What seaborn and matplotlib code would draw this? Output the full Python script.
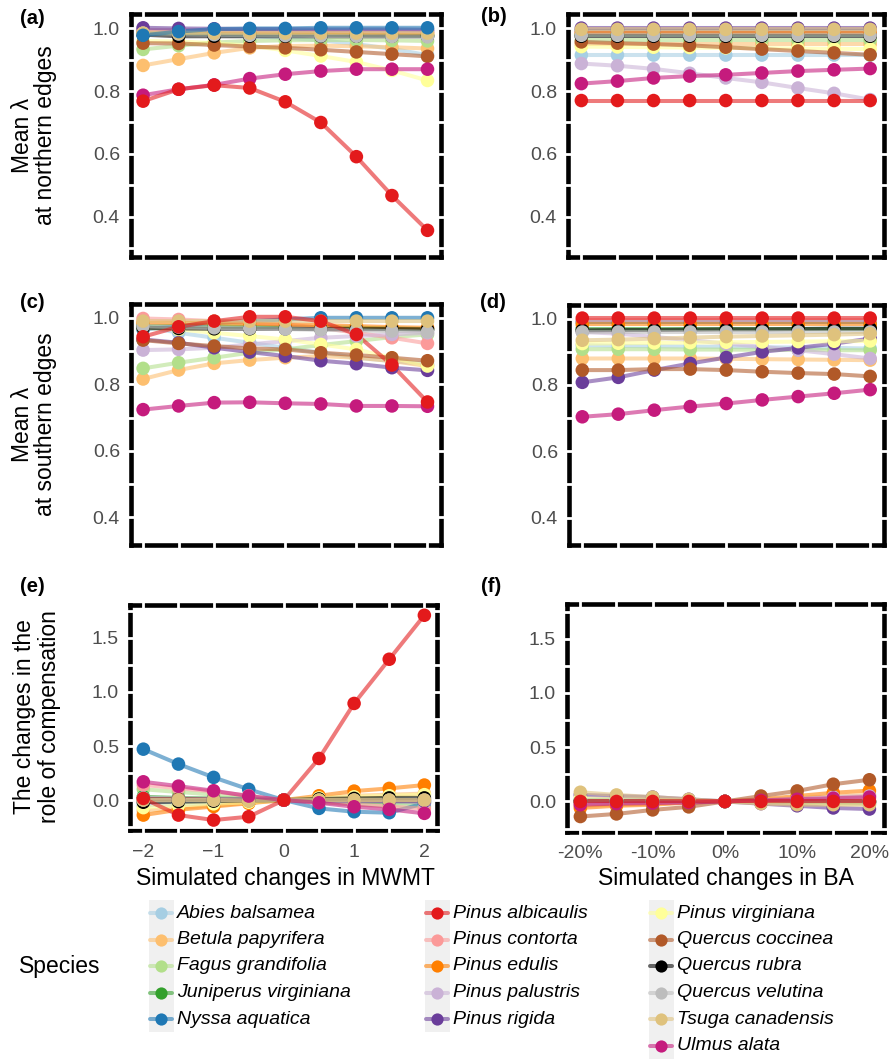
import matplotlib
matplotlib.use("Agg")
import numpy as np
import pandas as pd
import matplotlib.pyplot as plt
import seaborn as sns
from matplotlib.ticker import MultipleLocator, FuncFormatter, NullFormatter
from matplotlib.lines import Line2D
from matplotlib.patches import Rectangle

# ---------------- data ----------------
SPECIES = ["Abies balsamea", "Betula papyrifera", "Fagus grandifolia", "Juniperus virginiana",
           "Nyssa aquatica", "Pinus albicaulis", "Pinus contorta", "Pinus edulis",
           "Pinus palustris", "Pinus rigida", "Pinus virginiana", "Quercus coccinea",
           "Quercus rubra", "Quercus velutina", "Tsuga canadensis", "Ulmus alata"]
COLORS = ["#A6CEE3", "#FDBF6F", "#B2DF8A", "#33A02C", "#1F78B4", "#E31A1C", "#FB9A99",
          "#FF7F00", "#CAB2D6", "#6A3D9A", "#FFFF99", "#B15928", "#000000", "#BDBDBD",
          "#DFC27D", "#C51B7D"]
MWMT_X = [-2, -1.5, -1, -0.5, 0, 0.5, 1, 1.5, 2]
BA_X = [-20, -15, -10, -5, 0, 5, 10, 15, 20]

NORTH_MWMT = {
    "Abies balsamea":       [0.985, 0.985, 0.980, 0.975, 0.970, 0.962, 0.950, 0.935, 0.915],
    "Betula papyrifera":    [0.882, 0.902, 0.922, 0.938, 0.944, 0.945, 0.943, 0.940, 0.936],
    "Fagus grandifolia":    [0.933, 0.945, 0.955, 0.960, 0.962, 0.963, 0.963, 0.962, 0.960],
    "Juniperus virginiana": [0.985, 0.983, 0.982, 0.980, 0.980, 0.980, 0.979, 0.978, 0.977],
    "Nyssa aquatica":       [0.978, 0.990, 0.998, 1.000, 1.000, 1.002, 1.002, 1.002, 1.002],
    "Pinus albicaulis":     [0.768, 0.806, 0.819, 0.810, 0.766, 0.700, 0.591, 0.467, 0.356],
    "Pinus contorta":       [0.995, 0.995, 0.994, 0.993, 0.992, 0.991, 0.990, 0.990, 0.989],
    "Pinus edulis":         [0.990, 0.990, 0.990, 0.988, 0.987, 0.986, 0.985, 0.984, 0.983],
    "Pinus palustris":      [0.995, 0.995, 0.994, 0.994, 0.993, 0.993, 0.992, 0.992, 0.991],
    "Pinus rigida":         [1.002, 1.000, 0.999, 0.998, 0.998, 0.997, 0.997, 0.997, 0.996],
    "Pinus virginiana":     [0.960, 0.958, 0.953, 0.945, 0.930, 0.912, 0.893, 0.866, 0.834],
    "Quercus coccinea":     [0.953, 0.952, 0.947, 0.942, 0.938, 0.932, 0.925, 0.918, 0.911],
    "Quercus rubra":        [0.980, 0.975, 0.975, 0.975, 0.975, 0.975, 0.975, 0.975, 0.975],
    "Quercus velutina":     [0.985, 0.982, 0.980, 0.978, 0.977, 0.976, 0.975, 0.974, 0.973],
    "Tsuga canadensis":     [0.985, 0.985, 0.985, 0.985, 0.985, 0.985, 0.985, 0.985, 0.985],
    "Ulmus alata":          [0.787, 0.806, 0.820, 0.840, 0.854, 0.864, 0.870, 0.870, 0.870],
}
NORTH_BA = {
    "Abies balsamea":       [0.915, 0.915, 0.915, 0.915, 0.915, 0.915, 0.915, 0.915, 0.915],
    "Betula papyrifera":    [0.950, 0.950, 0.950, 0.950, 0.950, 0.950, 0.950, 0.950, 0.950],
    "Fagus grandifolia":    [0.962, 0.962, 0.962, 0.962, 0.962, 0.962, 0.962, 0.962, 0.962],
    "Juniperus virginiana": [0.980, 0.980, 0.980, 0.980, 0.980, 0.980, 0.980, 0.980, 0.980],
    "Nyssa aquatica":       [0.993, 0.993, 0.993, 0.993, 0.993, 0.993, 0.993, 0.993, 0.993],
    "Pinus albicaulis":     [0.770, 0.770, 0.770, 0.770, 0.770, 0.770, 0.770, 0.770, 0.770],
    "Pinus contorta":       [0.990, 0.990, 0.990, 0.990, 0.990, 0.990, 0.990, 0.990, 0.990],
    "Pinus edulis":         [0.985, 0.985, 0.985, 0.985, 0.985, 0.985, 0.985, 0.985, 0.985],
    "Pinus palustris":      [0.888, 0.881, 0.871, 0.857, 0.842, 0.828, 0.810, 0.793, 0.773],
    "Pinus rigida":         [1.001, 1.001, 1.001, 1.001, 1.001, 1.001, 1.001, 1.001, 1.001],
    "Pinus virginiana":     [0.942, 0.941, 0.940, 0.939, 0.938, 0.937, 0.936, 0.935, 0.934],
    "Quercus coccinea":     [0.957, 0.953, 0.950, 0.946, 0.940, 0.934, 0.928, 0.922, 0.916],
    "Quercus rubra":        [0.975, 0.975, 0.975, 0.975, 0.975, 0.975, 0.975, 0.975, 0.975],
    "Quercus velutina":     [0.978, 0.978, 0.978, 0.978, 0.978, 0.978, 0.978, 0.978, 0.978],
    "Tsuga canadensis":     [0.997, 0.997, 0.997, 0.997, 0.997, 0.997, 0.997, 0.997, 0.997],
    "Ulmus alata":          [0.824, 0.832, 0.842, 0.848, 0.852, 0.858, 0.864, 0.868, 0.872],
}
SOUTH_MWMT = {
    "Abies balsamea":       [0.975, 0.955, 0.940, 0.925, 0.910, 0.895, 0.880, 0.870, 0.860],
    "Betula papyrifera":    [0.816, 0.843, 0.863, 0.873, 0.880, 0.885, 0.880, 0.870, 0.855],
    "Fagus grandifolia":    [0.848, 0.865, 0.880, 0.895, 0.905, 0.918, 0.930, 0.942, 0.950],
    "Juniperus virginiana": [0.975, 0.975, 0.974, 0.973, 0.972, 0.971, 0.970, 0.968, 0.966],
    "Nyssa aquatica":       [0.965, 0.975, 0.985, 0.990, 0.995, 1.000, 1.000, 1.000, 1.000],
    "Pinus albicaulis":     [0.943, 0.973, 0.990, 1.003, 1.003, 0.990, 0.950, 0.858, 0.747],
    "Pinus contorta":       [0.998, 0.995, 0.990, 0.985, 0.980, 0.970, 0.955, 0.940, 0.923],
    "Pinus edulis":         [0.985, 0.985, 0.983, 0.982, 0.980, 0.978, 0.975, 0.972, 0.970],
    "Pinus palustris":      [0.903, 0.905, 0.910, 0.920, 0.930, 0.940, 0.945, 0.950, 0.955],
    "Pinus rigida":         [0.935, 0.925, 0.910, 0.897, 0.885, 0.871, 0.862, 0.850, 0.842],
    "Pinus virginiana":     [0.970, 0.965, 0.955, 0.945, 0.935, 0.920, 0.905, 0.880, 0.855],
    "Quercus coccinea":     [0.933, 0.923, 0.915, 0.908, 0.905, 0.895, 0.888, 0.880, 0.871],
    "Quercus rubra":        [0.970, 0.968, 0.967, 0.967, 0.967, 0.966, 0.966, 0.966, 0.965],
    "Quercus velutina":     [0.975, 0.972, 0.970, 0.968, 0.966, 0.964, 0.962, 0.960, 0.958],
    "Tsuga canadensis":     [0.990, 0.990, 0.990, 0.990, 0.990, 0.990, 0.990, 0.990, 0.990],
    "Ulmus alata":          [0.724, 0.735, 0.745, 0.746, 0.743, 0.741, 0.735, 0.735, 0.734],
}
SOUTH_BA = {
    "Abies balsamea":       [0.920, 0.918, 0.917, 0.916, 0.915, 0.914, 0.913, 0.912, 0.910],
    "Betula papyrifera":    [0.880, 0.880, 0.880, 0.880, 0.879, 0.878, 0.877, 0.876, 0.875],
    "Fagus grandifolia":    [0.908, 0.908, 0.908, 0.907, 0.907, 0.906, 0.906, 0.905, 0.905],
    "Juniperus virginiana": [0.970, 0.970, 0.970, 0.970, 0.970, 0.970, 0.970, 0.970, 0.970],
    "Nyssa aquatica":       [0.990, 0.990, 0.990, 0.990, 0.990, 0.990, 0.990, 0.990, 0.990],
    "Pinus albicaulis":     [1.002, 1.002, 1.002, 1.002, 1.002, 1.002, 1.002, 1.002, 1.002],
    "Pinus contorta":       [0.995, 0.995, 0.995, 0.995, 0.995, 0.995, 0.995, 0.995, 0.995],
    "Pinus edulis":         [0.983, 0.983, 0.983, 0.983, 0.983, 0.983, 0.983, 0.983, 0.983],
    "Pinus palustris":      [0.960, 0.955, 0.945, 0.935, 0.925, 0.915, 0.905, 0.893, 0.880],
    "Pinus rigida":         [0.808, 0.823, 0.845, 0.865, 0.883, 0.900, 0.912, 0.925, 0.940],
    "Pinus virginiana":     [0.925, 0.926, 0.927, 0.928, 0.929, 0.930, 0.931, 0.932, 0.933],
    "Quercus coccinea":     [0.845, 0.845, 0.848, 0.848, 0.845, 0.840, 0.836, 0.833, 0.826],
    "Quercus rubra":        [0.965, 0.966, 0.966, 0.967, 0.968, 0.968, 0.969, 0.970, 0.970],
    "Quercus velutina":     [0.960, 0.960, 0.960, 0.960, 0.960, 0.960, 0.960, 0.960, 0.960],
    "Tsuga canadensis":     [0.935, 0.937, 0.940, 0.943, 0.946, 0.948, 0.950, 0.952, 0.955],
    "Ulmus alata":          [0.704, 0.712, 0.724, 0.735, 0.744, 0.755, 0.765, 0.775, 0.786],
}
COMP_MWMT = {
    "Abies balsamea":       [-0.050, -0.040, -0.030, -0.015, 0.0, 0.000, 0.010, 0.010, 0.000],
    "Betula papyrifera":    [-0.100, -0.075, -0.050, -0.025, 0.0, 0.020, 0.040, 0.050, 0.060],
    "Fagus grandifolia":    [0.100, 0.075, 0.050, 0.025, 0.0, -0.020, -0.040, -0.050, -0.060],
    "Juniperus virginiana": [0.030, 0.020, 0.015, 0.010, 0.0, -0.010, -0.015, -0.020, -0.020],
    "Nyssa aquatica":       [0.471, 0.333, 0.210, 0.099, 0.0, -0.077, -0.108, -0.117, -0.030],
    "Pinus albicaulis":     [0.015, -0.139, -0.185, -0.154, 0.0, 0.385, 0.894, 1.303, 1.710],
    "Pinus contorta":       [0.140, 0.110, 0.080, 0.040, 0.0, -0.020, -0.040, -0.060, -0.080],
    "Pinus edulis":         [-0.139, -0.090, -0.060, -0.030, 0.0, 0.040, 0.083, 0.108, 0.139],
    "Pinus palustris":      [0.020, 0.015, 0.010, 0.005, 0.0, -0.005, -0.010, -0.015, -0.020],
    "Pinus rigida":         [0.010, 0.008, 0.006, 0.003, 0.0, -0.003, -0.006, -0.008, -0.010],
    "Pinus virginiana":     [-0.070, -0.050, -0.035, -0.020, 0.0, 0.020, 0.030, 0.040, 0.050],
    "Quercus coccinea":     [0.010, 0.010, 0.005, 0.000, 0.0, 0.000, 0.000, 0.000, 0.000],
    "Quercus rubra":        [-0.020, -0.015, -0.010, -0.005, 0.0, 0.010, 0.015, 0.020, 0.020],
    "Quercus velutina":     [0.000, 0.000, 0.000, 0.000, 0.0, 0.000, 0.000, 0.000, 0.000],
    "Tsuga canadensis":     [0.000, 0.000, 0.000, -0.010, 0.0, 0.000, 0.000, 0.000, 0.000],
    "Ulmus alata":          [0.169, 0.129, 0.086, 0.037, 0.0, -0.025, -0.062, -0.086, -0.123],
}
COMP_BA = {
    "Abies balsamea":       [0.020, 0.015, 0.010, 0.005, 0.0, -0.005, -0.010, -0.015, -0.020],
    "Betula papyrifera":    [-0.040, -0.030, -0.020, -0.010, 0.0, 0.015, 0.030, 0.045, 0.060],
    "Fagus grandifolia":    [0.010, 0.008, 0.005, 0.003, 0.0, -0.003, -0.005, -0.008, -0.010],
    "Juniperus virginiana": [0.000, 0.000, 0.000, 0.000, 0.0, 0.000, 0.000, 0.000, 0.000],
    "Nyssa aquatica":       [0.010, 0.008, 0.005, 0.003, 0.0, -0.003, -0.005, -0.008, -0.010],
    "Pinus albicaulis":     [0.000, 0.000, 0.000, 0.000, 0.0, 0.000, 0.000, 0.000, 0.000],
    "Pinus contorta":       [-0.010, -0.008, -0.005, -0.003, 0.0, 0.005, 0.010, 0.015, 0.020],
    "Pinus edulis":         [-0.060, -0.040, -0.030, -0.010, 0.0, 0.020, 0.050, 0.080, 0.100],
    "Pinus palustris":      [-0.020, -0.015, -0.010, -0.005, 0.0, 0.010, 0.025, 0.040, 0.050],
    "Pinus rigida":         [0.060, 0.050, 0.040, 0.020, 0.0, -0.020, -0.040, -0.060, -0.070],
    "Pinus virginiana":     [0.030, 0.020, 0.015, 0.008, 0.0, -0.008, -0.015, -0.020, -0.020],
    "Quercus coccinea":     [-0.139, -0.115, -0.078, -0.050, 0.0, 0.050, 0.097, 0.159, 0.200],
    "Quercus rubra":        [0.000, 0.000, 0.000, 0.000, 0.0, 0.000, 0.000, 0.000, 0.000],
    "Quercus velutina":     [0.000, 0.000, 0.000, 0.000, 0.0, 0.000, 0.000, 0.000, 0.000],
    "Tsuga canadensis":     [0.085, 0.060, 0.040, 0.020, 0.0, -0.020, -0.030, -0.030, -0.030],
    "Ulmus alata":          [-0.030, -0.020, -0.015, -0.010, 0.0, 0.010, 0.020, 0.030, 0.040],
}

# ---------------- style ----------------
sns.set_style("white")
plt.rcParams["font.family"] = ["Liberation Sans", "DejaVu Sans"]
plt.rcParams["text.color"] = "black"

PAL = dict(zip(SPECIES, COLORS))
TICK_GREY = "#4D4D4D"


def draw_order(last):
    return [s for s in SPECIES if s not in last] + list(last)


ORDER_DEFAULT = draw_order(["Pinus albicaulis"])
ORDER_A = draw_order(["Nyssa aquatica", "Pinus albicaulis"])

W, H = 889, 1060
fig = plt.figure(figsize=(W / 100, H / 100), dpi=100)


def rect(l, t, r, b):
    return [l / W, 1 - b / H, (r - l) / W, (b - t) / H]


def to_long(d, xs, order):
    rows = []
    for sp in order:
        for x, y in zip(xs, d[sp]):
            rows.append((sp, x, y))
    return pd.DataFrame(rows, columns=["species", "x", "y"])


mwmt_fmt = FuncFormatter(lambda v, p: ("\u2212" if v < 0 else "") + f"{abs(v):g}")
ba_fmt = FuncFormatter(lambda v, p: ("-" if v < 0 else "") + f"{abs(v):g}%")

panels = [
    (NORTH_MWMT, MWMT_X, ORDER_A, rect(131, 14, 441, 256.7), (0.272, 1.046), (-2.17, 2.19), 1, 0.5, 0.2, 0.1, False, mwmt_fmt, "(a)", (32, 19)),
    (NORTH_BA, BA_X, ORDER_DEFAULT, rect(568, 14, 883.5, 256.7), (0.272, 1.046), (-21.85, 21.85), 10, 5, 0.2, 0.1, False, ba_fmt, "(b)", (494, 17)),
    (SOUTH_MWMT, MWMT_X, ORDER_DEFAULT, rect(131, 303.5, 441, 545), (0.317, 1.043), (-2.17, 2.19), 1, 0.5, 0.2, 0.1, False, mwmt_fmt, "(c)", (32, 302)),
    (SOUTH_BA, BA_X, ORDER_DEFAULT, rect(569, 304.5, 883.5, 545), (0.317, 1.043), (-21.85, 21.85), 10, 5, 0.2, 0.1, False, ba_fmt, "(d)", (493, 303)),
    (COMP_MWMT, MWMT_X, ORDER_DEFAULT, rect(130, 605, 437, 830), (-0.277, 1.805), (-2.19, 2.18), 1, 0.5, 0.5, 0.25, True, mwmt_fmt, "(e)", (32, 587)),
    (COMP_BA, BA_X, ORDER_DEFAULT, rect(567, 603.5, 883.5, 831.5), (-0.277, 1.825), (-21.85, 21.95), 10, 5, 0.5, 0.25, True, ba_fmt, "(f)", (491, 587)),
]

for (d, xs, order, box, ylim, xlim, xmaj, xmin, ymaj, ymin, showx, fmt, lab, lpos) in panels:
    ax = fig.add_axes(box)
    df = to_long(d, xs, order)
    sns.lineplot(data=df, x="x", y="y", hue="species", hue_order=order, palette=PAL,
                 errorbar=None, linewidth=2.9, alpha=0.58, legend=False, ax=ax, zorder=2)
    sns.scatterplot(data=df, x="x", y="y", hue="species", hue_order=order, palette=PAL,
                    s=95, linewidth=0, alpha=1.0, legend=False, ax=ax, zorder=3)
    ax.set_xlim(*xlim)
    ax.set_ylim(*ylim)
    ax.set_xlabel("")
    ax.set_ylabel("")
    ax.xaxis.set_major_locator(MultipleLocator(xmaj))
    ax.yaxis.set_major_locator(MultipleLocator(ymaj))
    ax.xaxis.set_major_formatter(fmt if showx else NullFormatter())
    ax.yaxis.set_major_formatter(FuncFormatter(lambda v, p: f"{v:.1f}"))
    ax.tick_params(axis="both", which="major", direction="out", length=5, width=1.6,
                   color="#333333", labelcolor=TICK_GREY, labelsize=14, pad=3)
    ax.tick_params(axis="x", which="major", pad=5)
    ax.tick_params(axis="both", which="minor", length=0)
    for sp in ax.spines.values():
        sp.set_visible(True)
        sp.set_color("black")
        sp.set_linewidth(3.3)
        sp.set_zorder(1)
    # white grid lines (major + minor) crossing the panel border
    bw = box[2] * W
    bh = box[3] * H
    ext_y = 4.0 / bh
    ext_x = 4.0 / bw
    xg = np.arange(np.ceil(xlim[0] / xmin) * xmin, xlim[1] + 1e-9, xmin)
    yg = np.arange(np.ceil(ylim[0] / ymin) * ymin, ylim[1] + 1e-9, ymin)
    for xv in xg:
        ax.axvline(xv, ymin=-ext_y, ymax=1 + ext_y, color="white", lw=2.0, zorder=1.5, clip_on=False)
    for yv in yg:
        ax.axhline(yv, xmin=-ext_x, xmax=1 + ext_x, color="white", lw=2.0, zorder=1.5, clip_on=False)
    fig.text(lpos[0] / W, 1 - lpos[1] / H, lab, fontsize=14.5, fontweight="bold",
             ha="center", va="center")

# axis titles
fig.text(34 / W, 1 - 135 / H, "Mean \u03bb\nat northern edges", rotation=90, fontsize=16.5,
         ha="center", va="center", linespacing=1.05)
fig.text(34 / W, 1 - 424 / H, "Mean \u03bb\nat southern edges", rotation=90, fontsize=16.5,
         ha="center", va="center", linespacing=1.05)
fig.text(37 / W, 1 - 717 / H, "The changes in the\nrole of compensation", rotation=90,
         fontsize=16.5, ha="center", va="center", linespacing=1.15)
fig.text(285 / W, 1 - 878 / H, "Simulated changes in MWMT", fontsize=16.5, ha="center", va="center")
fig.text(726 / W, 1 - 878 / H, "Simulated changes in BA", fontsize=16.5, ha="center", va="center")

# legend (three columns, 5 / 5 / 6 entries)
ROWS_Y = [913, 939.5, 966, 992.5, 1019, 1045.5]
COLS = [(SPECIES[0:5], 161, 177), (SPECIES[5:10], 437, 453), (SPECIES[10:16], 661, 677)]
fig.text(60 / W, 1 - 966 / H, "Species", fontsize=16.5, ha="center", va="center")
for names, kx, tx in COLS:
    top = ROWS_Y[0] - 13.25
    bot = ROWS_Y[len(names) - 1] + 13.25
    fig.add_artist(Rectangle(((kx - 12.5) / W, 1 - bot / H), 25 / W, (bot - top) / H,
                             transform=fig.transFigure, facecolor="#F0F0F0", edgecolor="none", zorder=1))
    for i, sp in enumerate(names):
        yy = 1 - ROWS_Y[i] / H
        fig.add_artist(Line2D([(kx - 11) / W, (kx + 11) / W], [yy, yy], transform=fig.transFigure,
                              color=PAL[sp], alpha=0.58, lw=2.9, zorder=2))
        fig.add_artist(Line2D([kx / W], [yy], transform=fig.transFigure, marker="o", ms=8.8,
                              mew=0, color=PAL[sp], linestyle="none", zorder=3))
        fig.text(tx / W, yy, sp, fontsize=14, fontstyle="italic", ha="left", va="center")

fig.savefig("out.png", dpi=100)
